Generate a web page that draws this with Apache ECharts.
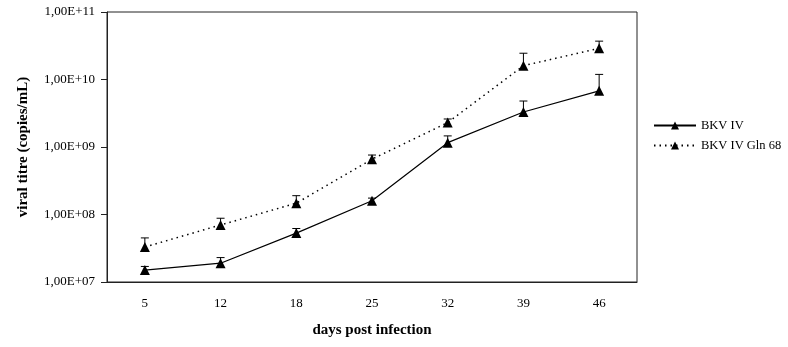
<!DOCTYPE html>
<html>
<head>
<meta charset="utf-8">
<script src="https://cdn.jsdelivr.net/npm/echarts@6/dist/echarts.min.js"></script>
<style>
  html, body { margin: 0; padding: 0; background: #fff; }
  #chart { width: 788px; height: 347px; }
</style>
</head>
<body>
<div id="chart"></div>
<script>
// Days post infection (x categories)
var days = ['5', '12', '18', '25', '32', '39', '46'];

// Viral titre, copies/mL — mean and standard deviation
var bkvIV = [1.5e7, 1.9e7, 5.3e7, 1.6e8, 1.16e9, 3.3e9, 6.8e9];
var bkvIVSd = [0.2e7, 0.4e7, 0.9e7, 0.15e8, 0.3e9, 1.5e9, 5.1e9];

var bkvGln68 = [3.3e7, 7.0e7, 1.47e8, 6.6e8, 2.3e9, 1.6e10, 2.9e10];
var bkvGln68Sd = [1.2e7, 1.8e7, 0.43e8, 1.0e8, 0.3e9, 0.85e10, 0.8e10];

// Y axis decades
var yTicks = [1e7, 1e8, 1e9, 1e10, 1e11];

var serif = '"Liberation Serif", "Times New Roman", serif';

function errorData(mean, sd) {
  return mean.map(function (m, i) { return [i, m, m + sd[i]]; });
}

// Upper error whisker with a cap
function renderError(params, api) {
  var x = api.value(0);
  var p0 = api.coord([x, api.value(1)]);
  var p1 = api.coord([x, api.value(2)]);
  var half = 4;
  var style = { stroke: '#000', lineWidth: 1 };
  return {
    type: 'group',
    children: [
      { type: 'line', shape: { x1: p0[0], y1: p0[1], x2: p1[0], y2: p1[1] }, style: style },
      { type: 'line', shape: { x1: p1[0] - half, y1: p1[1], x2: p1[0] + half, y2: p1[1] }, style: style }
    ]
  };
}

var chart = echarts.init(document.getElementById('chart'), null, { renderer: 'canvas' });

chart.setOption({
  backgroundColor: '#fff',
  animation: false,
  textStyle: { fontFamily: serif, color: '#000' },
  grid: {
    left: 107, top: 12, right: 151, bottom: 65,
    show: true, borderColor: '#222', borderWidth: 1, backgroundColor: 'transparent'
  },
  legend: {
    orient: 'vertical',
    left: 653, top: 119,
    padding: 0,
    itemWidth: 42, itemHeight: 10, itemGap: 7,
    textStyle: { fontFamily: serif, fontSize: 12.5, color: '#000' },
    data: ['BKV IV', 'BKV IV Gln 68']
  },
  xAxis: {
    type: 'category',
    data: days,
    boundaryGap: true,
    axisLine: { lineStyle: { color: '#222', width: 1 } },
    axisTick: { show: false },
    axisLabel: { fontFamily: serif, fontSize: 13, color: '#000', margin: 15 },
    name: 'days post infection',
    nameLocation: 'middle',
    nameGap: 41,
    nameTextStyle: { fontFamily: serif, fontSize: 15, fontWeight: 'bold', color: '#000' },
    splitLine: { show: false }
  },
  yAxis: {
    type: 'log',
    logBase: 10,
    min: yTicks[0],
    max: yTicks[yTicks.length - 1],
    axisLine: { show: true, lineStyle: { color: '#222', width: 1 } },
    axisTick: { show: true, inside: false, length: 6, lineStyle: { color: '#222' } },
    axisLabel: {
      fontFamily: serif, fontSize: 13, color: '#000', margin: 12,
      formatter: function (v) {
        var e = Math.round(Math.log10(v));
        return '1,00E+' + (e < 10 ? '0' + e : e);
      }
    },
    splitLine: { show: false },
    name: 'viral titre (copies/mL)',
    nameLocation: 'middle',
    nameGap: 76,
    nameTextStyle: { fontFamily: serif, fontSize: 15, fontWeight: 'bold', color: '#000' }
  },
  series: [
    {
      name: 'BKV IV',
      type: 'line',
      data: bkvIV,
      symbol: 'triangle',
      symbolSize: 10,
      showAllSymbol: true,
      itemStyle: { color: '#000' },
      lineStyle: { color: '#000', width: 1.2, type: 'solid' },
      z: 3
    },
    {
      name: 'BKV IV Gln 68',
      type: 'line',
      data: bkvGln68,
      symbol: 'triangle',
      symbolSize: 10,
      showAllSymbol: true,
      itemStyle: { color: '#000' },
      lineStyle: { color: '#000', width: 1.5, type: [1.5, 4] },
      z: 3
    },
    {
      type: 'custom',
      renderItem: renderError,
      data: errorData(bkvIV, bkvIVSd),
      encode: { x: 0, y: [1, 2] },
      z: 2
    },
    {
      type: 'custom',
      renderItem: renderError,
      data: errorData(bkvGln68, bkvGln68Sd),
      encode: { x: 0, y: [1, 2] },
      z: 2
    }
  ]
});
</script>
</body>
</html>
